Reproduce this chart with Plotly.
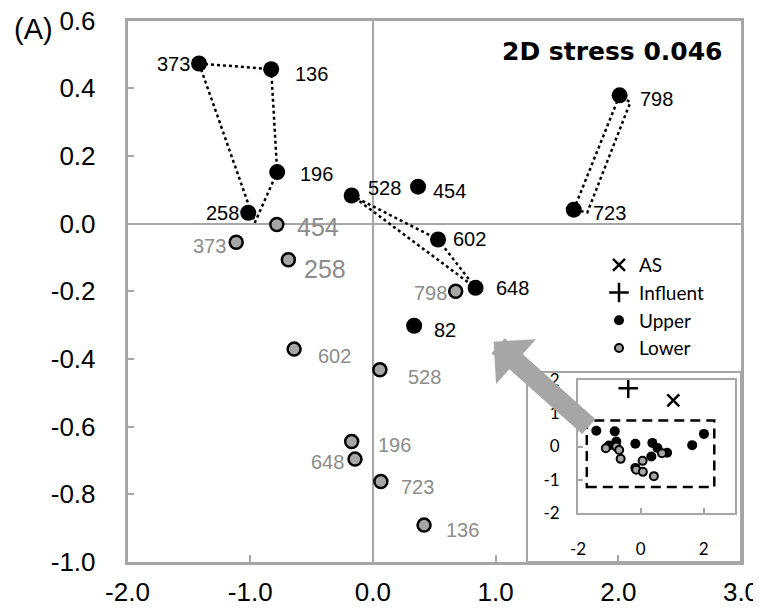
import plotly.graph_objects as go

# ---------------- data ----------------
upper_ids = ["373", "136", "196", "258", "528", "454", "602", "648", "798", "723", "82"]
upper_x = [-1.417, -0.829, -0.780, -1.016, -0.173, 0.368, 0.531, 0.837, 2.011, 1.637, 0.336]
upper_y = [0.473, 0.456, 0.152, 0.032, 0.083, 0.109, -0.047, -0.190, 0.379, 0.041, -0.302]

lower_ids = ["373", "454", "258", "602", "528", "798", "196", "648", "723", "136"]
lower_x = [-1.114, -0.783, -0.689, -0.642, 0.057, 0.675, -0.173, -0.146, 0.065, 0.417]
lower_y = [-0.055, -0.003, -0.107, -0.371, -0.432, -0.200, -0.644, -0.696, -0.762, -0.891]

as_x = [1.035]
as_y = [1.39]
influent_x = [-0.40]
influent_y = [1.75]

# dotted outlines (hand drawn groups)
group_a_x = [-1.417, -0.829, -0.780, -0.962, -1.417]
group_a_y = [0.473, 0.456, 0.152, 0.003, 0.473]
group_b_x = [-0.173, 0.531, 0.837, -0.173]
group_b_y = [0.083, -0.047, -0.190, 0.083]
group_c_x = [1.637, 2.011, 2.098, 1.748, 1.637]
group_c_y = [0.041, 0.379, 0.358, 0.033, 0.041]

# inset dashed box and arrow (data units)
inset_box = [-1.72, 2.34, -1.22, 0.78]
arrow_tip = [0.984, -0.349]
arrow_tail = [1.772, -0.604]

x_ticks = [-2.0, -1.0, 0.0, 1.0, 2.0, 3.0]
x_ticklabels = ["-2.0", "-1.0", "0.0", "1.0", "2.0", "3.0"]
y_ticks = [-1.0, -0.8, -0.6, -0.4, -0.2, 0.0, 0.2, 0.4, 0.6]
y_ticklabels = ["-1.0", "-0.8", "-0.6", "-0.4", "-0.2", "0.0", "0.2", "0.4", "0.6"]
inset_x_ticks = [-2, 0, 2]
inset_x_ticklabels = ["-2", "0", "2"]
inset_y_ticks = [-2, -1, 0, 1, 2]
inset_y_ticklabels = ["-2", "-1", "0", "1", "2"]

# label placement styles (pixels)
upper_lab_anchor = ["right", "left", "left", "right", "left", "left", "left", "left", "left", "left", "left"]
upper_lab_dx = [-7, 22, 21, -7, 14, 13, 13, 18, 18, 17, 18]
upper_lab_dy = [1, 5, 2, 0, -7, 4, 0, 0, 4, 3, 4]
lower_lab_anchor = ["right", "left", "left", "left", "left", "right", "left", "right", "left", "left"]
lower_lab_dx = [-8, 18, 14, 22, 26, -7, 24, -9, 18, 20]
lower_lab_dy = [4, 2, 9, 7, 7, 2, 3, 3, 6, 5]
lower_lab_size = [20, 25, 25, 20, 20, 20, 20, 20, 20, 20]

GRAY = "#A6A6A6"
LABEL_GRAY = "#8C8C8C"
W, H = 761, 613
OFF = 8  # page offset of the plot div


def px(p):
    return (p - OFF) / W


def py(p):
    return 1 - (p - OFF) / H


fig = go.Figure()

dot_line = dict(color="black", width=2.5, dash="dot")
for gx, gy in [(group_a_x, group_a_y), (group_b_x, group_b_y), (group_c_x, group_c_y)]:
    fig.add_trace(go.Scatter(x=gx, y=gy, mode="lines", line=dot_line,
                             showlegend=False, hoverinfo="skip", xaxis="x", yaxis="y"))

fig.add_trace(go.Scatter(x=lower_x, y=lower_y, mode="markers", showlegend=False,
                         marker=dict(size=13, color=GRAY, line=dict(color="black", width=2.5)),
                         xaxis="x", yaxis="y"))
fig.add_trace(go.Scatter(x=upper_x, y=upper_y, mode="markers", showlegend=False,
                         marker=dict(size=16, color="black"), xaxis="x", yaxis="y"))

# inset traces (also legend)
fig.add_trace(go.Scatter(x=as_x, y=as_y, mode="markers", name="AS",
                         marker=dict(symbol="x-thin-open", size=12, color="black",
                                     line=dict(color="black", width=2.5)),
                         xaxis="x2", yaxis="y2"))
fig.add_trace(go.Scatter(x=influent_x, y=influent_y, mode="markers", name="Influent",
                         marker=dict(symbol="cross-thin-open", size=14, color="black",
                                     line=dict(color="black", width=2.5)),
                         xaxis="x2", yaxis="y2"))
fig.add_trace(go.Scatter(x=upper_x, y=upper_y, mode="markers", name="Upper",
                         marker=dict(size=10, color="black"), xaxis="x2", yaxis="y2"))
fig.add_trace(go.Scatter(x=lower_x, y=lower_y, mode="markers", name="Lower",
                         marker=dict(size=8, color=GRAY, line=dict(color="black", width=2)),
                         xaxis="x2", yaxis="y2"))

annotations = []
for i, t in enumerate(upper_ids):
    annotations.append(dict(x=upper_x[i], y=upper_y[i], xref="x", yref="y", text=t,
                            showarrow=False, xanchor=upper_lab_anchor[i], yanchor="middle",
                            xshift=upper_lab_dx[i], yshift=-upper_lab_dy[i],
                            font=dict(family="Liberation Sans, Arial", size=20, color="black")))
for i, t in enumerate(lower_ids):
    annotations.append(dict(x=lower_x[i], y=lower_y[i], xref="x", yref="y", text=t,
                            showarrow=False, xanchor=lower_lab_anchor[i], yanchor="middle",
                            xshift=lower_lab_dx[i], yshift=-lower_lab_dy[i],
                            font=dict(family="Liberation Sans, Arial", size=lower_lab_size[i],
                                      color=LABEL_GRAY)))
annotations.append(dict(x=arrow_tip[0], y=arrow_tip[1], xref="x", yref="y",
                        ax=arrow_tail[0], ay=arrow_tail[1], axref="x", ayref="y",
                        text="", showarrow=True, arrowhead=1, arrowsize=0.5,
                        arrowwidth=20, arrowcolor=GRAY))
annotations.append(dict(x=px(12), y=py(29), xref="paper", yref="paper", text="(A)",
                        showarrow=False, xanchor="left", yanchor="middle",
                        font=dict(family="Liberation Sans, Arial", size=29, color="black")))
annotations.append(dict(x=px(725), y=py(52), xref="paper", yref="paper",
                        text="<b>2D stress 0.046</b>", showarrow=False,
                        xanchor="right", yanchor="middle",
                        font=dict(family="DejaVu Sans", size=25, color="black")))

shapes = [
    dict(type="rect", xref="paper", yref="paper", x0=px(527), x1=px(741),
         y0=py(562), y1=py(372), line=dict(color=GRAY, width=2), layer="above"),
    dict(type="rect", xref="x2", yref="y2", x0=inset_box[0], x1=inset_box[1],
         y0=inset_box[2], y1=inset_box[3], line=dict(color="black", width=2.5, dash="10px,6px")),
]

tickfont = dict(family="Liberation Sans, Arial", size=26, color="black")
inset_font = dict(family="Lato, Carlito, sans-serif", size=17, color="black")

fig.update_layout(
    width=W, height=H,
    margin=dict(l=0, r=0, t=0, b=0, autoexpand=False),
    paper_bgcolor="white", plot_bgcolor="white",
    showlegend=True,
    legend=dict(x=px(599), y=py(246), xanchor="left", yanchor="top",
                bgcolor="rgba(0,0,0,0)", borderwidth=0,
                font=dict(family="Lato, Carlito, sans-serif", size=19, color="black")),
    xaxis=dict(domain=[px(127.5), px(741)], range=[-2, 3], anchor="y", automargin=False,
               tickvals=x_ticks, ticktext=x_ticklabels, tickfont=tickfont,
               showline=True, mirror=True, linecolor=GRAY, linewidth=2.5,
               ticks="inside", ticklen=7, tickwidth=2, tickcolor=GRAY,
               showgrid=False, zeroline=True, zerolinecolor=GRAY, zerolinewidth=2,
               ticklabelstandoff=5, ticklabeloverflow="allow"),
    yaxis=dict(domain=[py(562), py(20.5)], range=[-1, 0.6], anchor="x", automargin=False,
               tickvals=y_ticks, ticktext=y_ticklabels, tickfont=tickfont,
               showline=True, mirror=True, linecolor=GRAY, linewidth=2.5,
               ticks="inside", ticklen=7, tickwidth=2, tickcolor=GRAY,
               showgrid=False, zeroline=True, zerolinecolor=GRAY, zerolinewidth=2,
               ticklabelstandoff=24, ticklabeloverflow="allow"),
    xaxis2=dict(domain=[px(578), px(735)], range=[-2, 3], anchor="y2", automargin=False,
                tickvals=inset_x_ticks, ticktext=inset_x_ticklabels, tickfont=inset_font,
                showline=True, mirror=True, linecolor=GRAY, linewidth=2,
                ticks="inside", ticklen=5, tickwidth=2, tickcolor=GRAY,
                showgrid=False, zeroline=False, ticklabelstandoff=20),
    yaxis2=dict(domain=[py(513), py(380)], range=[-2, 2], anchor="x2", automargin=False,
                tickvals=inset_y_ticks, ticktext=inset_y_ticklabels, tickfont=inset_font,
                showline=True, mirror=True, linecolor=GRAY, linewidth=2,
                ticks="inside", ticklen=5, tickwidth=2, tickcolor=GRAY,
                showgrid=False, zeroline=False, ticklabelstandoff=13),
    annotations=annotations,
    shapes=shapes,
)

fig.write_html("out.html")
